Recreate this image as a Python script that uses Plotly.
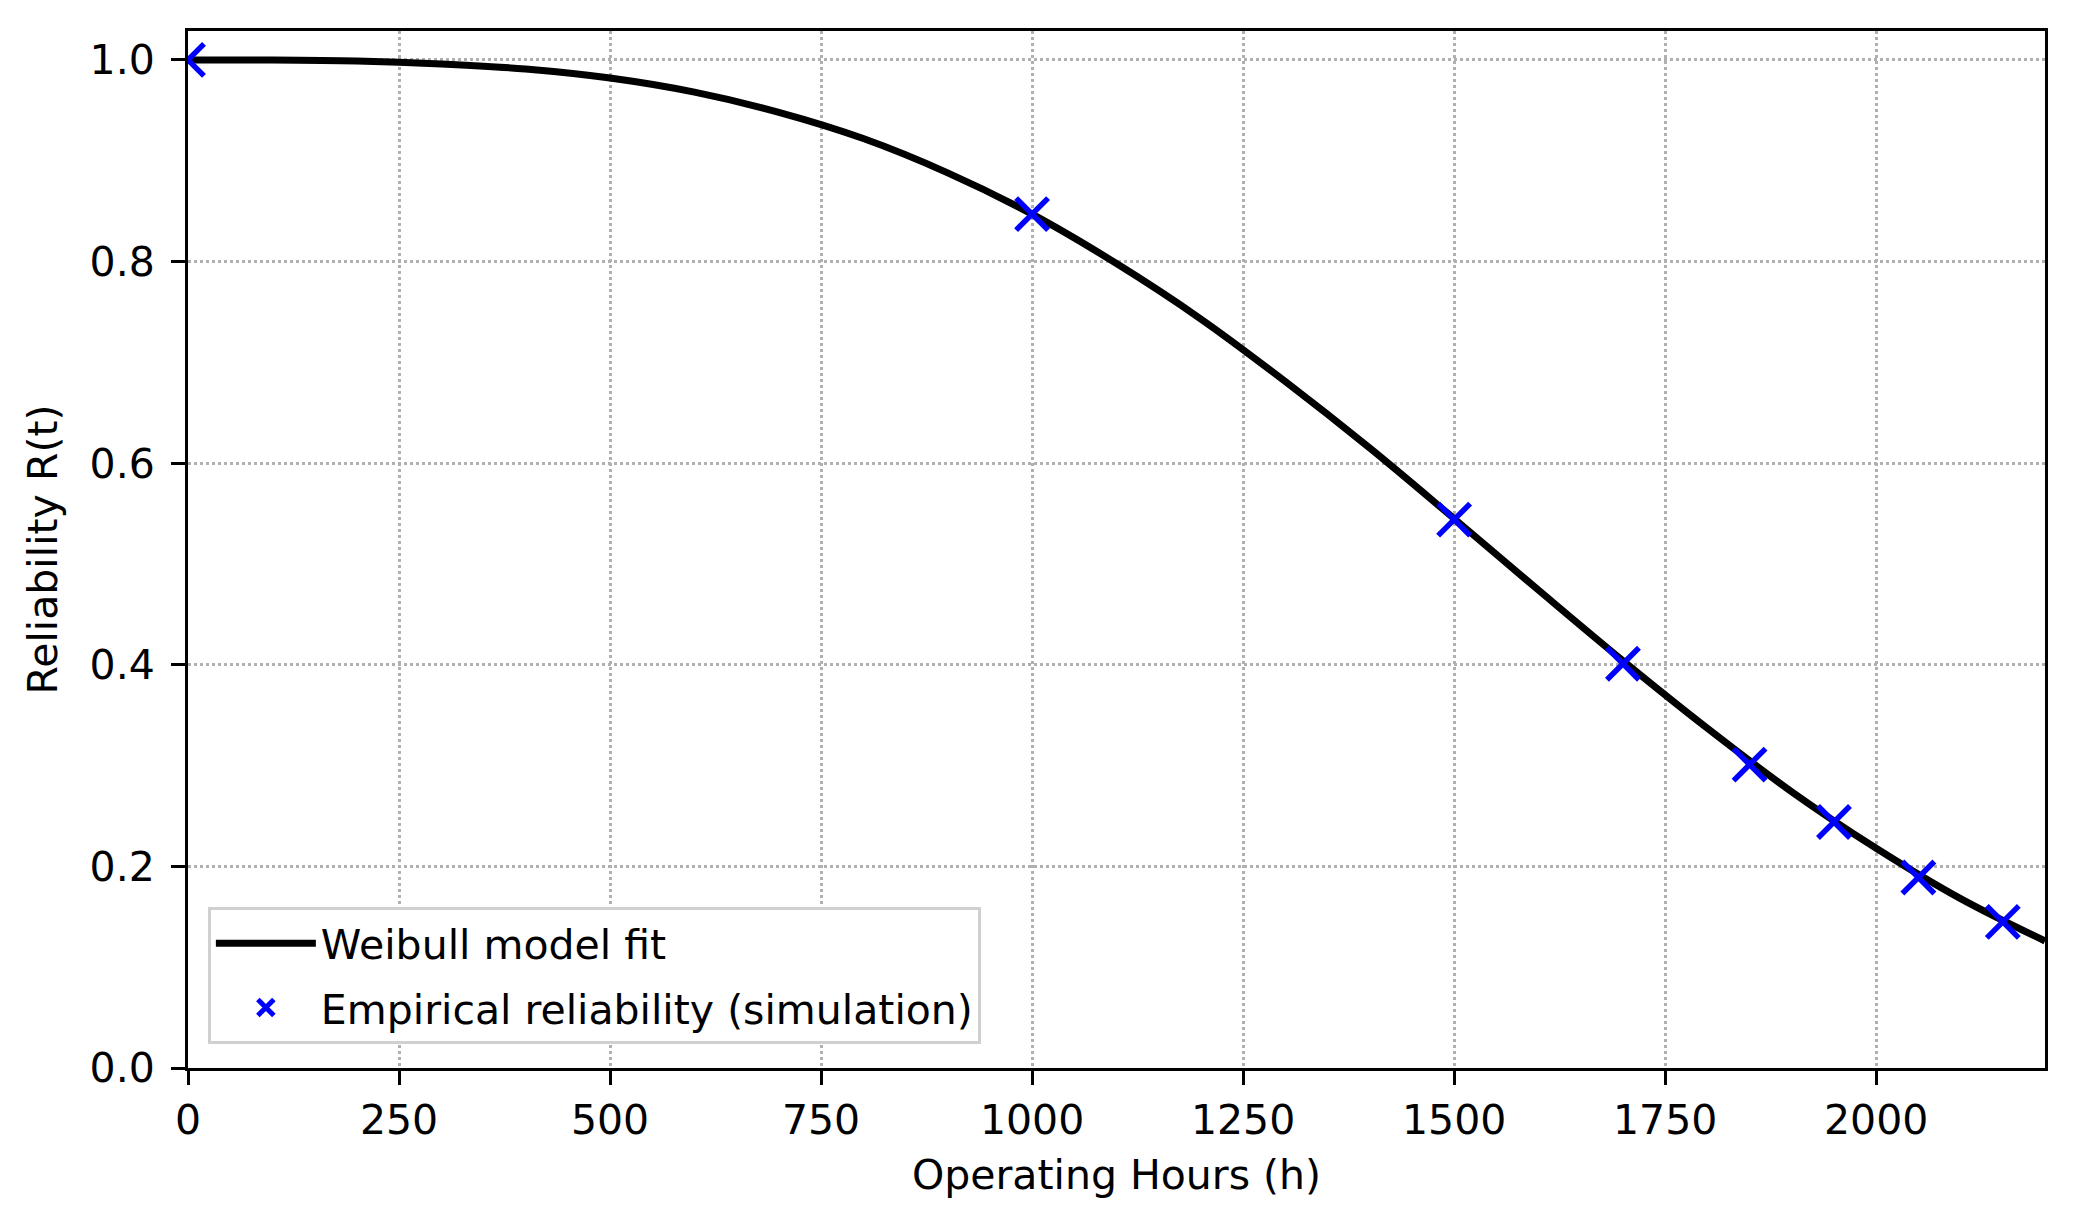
import plotly.graph_objects as go

# Weibull model fit curve (every 100 h)
fit_hours = [0, 100, 200, 300, 400, 500, 600, 700, 800, 900, 1000, 1100,
             1200, 1300, 1400, 1500, 1600, 1700, 1800, 1900, 2000, 2100, 2200]
fit_reliability = [1.000, 1.000, 0.999, 0.996, 0.991, 0.982, 0.968, 0.948,
                   0.922, 0.888, 0.847, 0.798, 0.743, 0.681, 0.615, 0.545,
                   0.474, 0.404, 0.337, 0.274, 0.218, 0.168, 0.126]

# Empirical reliability points (simulation)
emp_hours = [0, 1000, 1500, 1700, 1850, 1950, 2050, 2150]
emp_reliability = [1.000, 0.847, 0.544, 0.401, 0.301, 0.244, 0.189, 0.145]

x_ticks = [0, 250, 500, 750, 1000, 1250, 1500, 1750, 2000]
y_ticks = [0.0, 0.2, 0.4, 0.6, 0.8, 1.0]

FONT = "DejaVu Sans"
FS = 41

fig = go.Figure()
fig.add_trace(go.Scatter(
    x=fit_hours, y=fit_reliability, mode="lines", line_shape="spline",
    line=dict(color="black", width=7), name="Weibull model fit",
    legendgroup="a",
))
fig.add_trace(go.Scatter(
    x=emp_hours, y=emp_reliability, mode="markers",
    marker=dict(symbol="x-thin", size=32, color="blue",
                line=dict(color="blue", width=5.5)),
    name="Empirical reliability (simulation)",
    legendgroup="b",
))

axis_common = dict(
    showline=True, linecolor="black", linewidth=3, mirror=True,
    ticks="outside", ticklen=14, tickwidth=3, tickcolor="black",
    showgrid=True, gridcolor="#b0b0b0", gridwidth=3, griddash="dot",
    zeroline=False, tickfont=dict(family=FONT, size=FS, color="black"),
)

fig.update_xaxes(range=[0, 2200], tickvals=x_ticks,
                 title=dict(text="Operating Hours (h)",
                            font=dict(family=FONT, size=FS, color="black"),
                            standoff=18),
                 **axis_common)
fig.update_yaxes(range=[0, 1.0287], tickvals=y_ticks, tickformat=".1f",
                 ticklabelstandoff=8,
                 title=dict(text="Reliability R(t)",
                            font=dict(family=FONT, size=FS, color="black"),
                            standoff=20),
                 **axis_common)

fig.update_layout(
    width=2074, height=1229,
    margin=dict(l=180, r=37, t=23, b=169),
    plot_bgcolor="white", paper_bgcolor="white",
    font=dict(family=FONT, size=FS, color="black"),
    legend=dict(x=0.0107, y=0.023, xanchor="left", yanchor="bottom",
                bgcolor="white", bordercolor="#d0d0d0", borderwidth=3,
                font=dict(family=FONT, size=FS, color="black"),
                tracegroupgap=8, itemwidth=100),
    showlegend=True,
)

fig.write_html("out.html")
